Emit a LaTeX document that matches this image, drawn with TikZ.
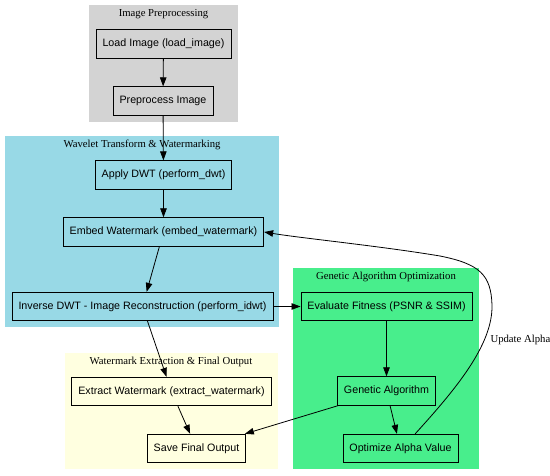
\documentclass[tikz,border=0pt]{standalone}
\usepackage{xcolor}
\usepackage{fontspec}
\setmainfont{Liberation Serif}
\setsansfont{Liberation Sans}
\usepackage{tikz}
\usetikzlibrary{arrows.meta, positioning, fit, backgrounds}

\definecolor{prepgray}{HTML}{D3D3D3}
\definecolor{waveblue}{HTML}{98D9E6}
\definecolor{extryellow}{HTML}{FFFFE0}
\definecolor{gagreen}{HTML}{48EE8C}

\begin{document}
\begin{tikzpicture}[
    x=1pt, y=-1pt,
    step box/.style={draw, line width=0.8pt, rectangle, minimum height=28.5pt, inner xsep=6.5pt, font=\sffamily\fontsize{10.7}{12}\selectfont},
    cluster/.style={inner sep=0pt, draw=none},
    title/.style={font=\rmfamily\fontsize{10.7}{12}\selectfont},
    arrow/.style={-{Triangle[length=9pt, width=6.5pt]}, line width=0.8pt}
]
\useasboundingbox (0,0) rectangle (550,476);

% clusters
\begin{scope}[on background layer]
\node[cluster, fill=prepgray, fit={(89,5) (238,122)}] (cprep) {};
\node[cluster, fill=waveblue, fit={(5,136) (279,327)}] (cwave) {};
\node[cluster, fill=extryellow, fit={(65,353) (278,469)}] (cextr) {};
\node[cluster, fill=gagreen, fit={(293,268) (479,469)}] (cga) {};
\end{scope}

\node[title] (tprep) at (163.5,14) {Image Preprocessing};
\node[title] (twave) at (142,145) {Wavelet Transform \& Watermarking};
\node[title] (textr) at (171,362) {Watermark Extraction \& Final Output};
\node[title] (tga) at (386,277) {Genetic Algorithm Optimization};

% steps
\node[step box] (load) at (163.5,44) {Load Image (load\_image)};
\node[step box] (prep) at (163,101) {Preprocess Image};
\node[step box] (dwt) at (163.5,175) {Apply DWT (perform\_dwt)};
\node[step box] (embed) at (163.5,232) {Embed Watermark (embed\_watermark)};
\node[step box] (idwt) at (142.5,306.5) {Inverse DWT - Image Reconstruction (perform\_idwt)};
\node[step box] (extract) at (171.5,391.5) {Extract Watermark (extract\_watermark)};
\node[step box] (save) at (196.5,448.5) {Save Final Output};
\node[step box] (eval) at (386.5,306.5) {Evaluate Fitness (PSNR \& SSIM)};
\node[step box] (ga) at (386.5,391) {Genetic Algorithm};
\node[step box] (opt) at (400.5,448.5) {Optimize Alpha Value};

\draw[arrow] (load) -- (prep);
\draw[arrow] (prep) -- (dwt);
\draw[arrow] (dwt) -- (embed);
\draw[arrow] (embed) -- (idwt);
\draw[arrow] (idwt) -- (extract);
\draw[arrow] (idwt) -- (eval);
\draw[arrow] (extract) -- (save);
\draw[arrow] (eval) -- (ga);
\draw[arrow] (ga) -- (save);
\draw[arrow] (ga) -- (opt);
\draw[arrow] (opt.45) .. controls (455,390) and (493,345) .. (492,305)
    .. controls (491,275) and (480,264) .. (440,256)
    .. controls (380,246) and (300,238) .. (embed.east);
\node[title, anchor=west] (upd) at (487,340) {Update Alpha};

\end{tikzpicture}
\end{document}
